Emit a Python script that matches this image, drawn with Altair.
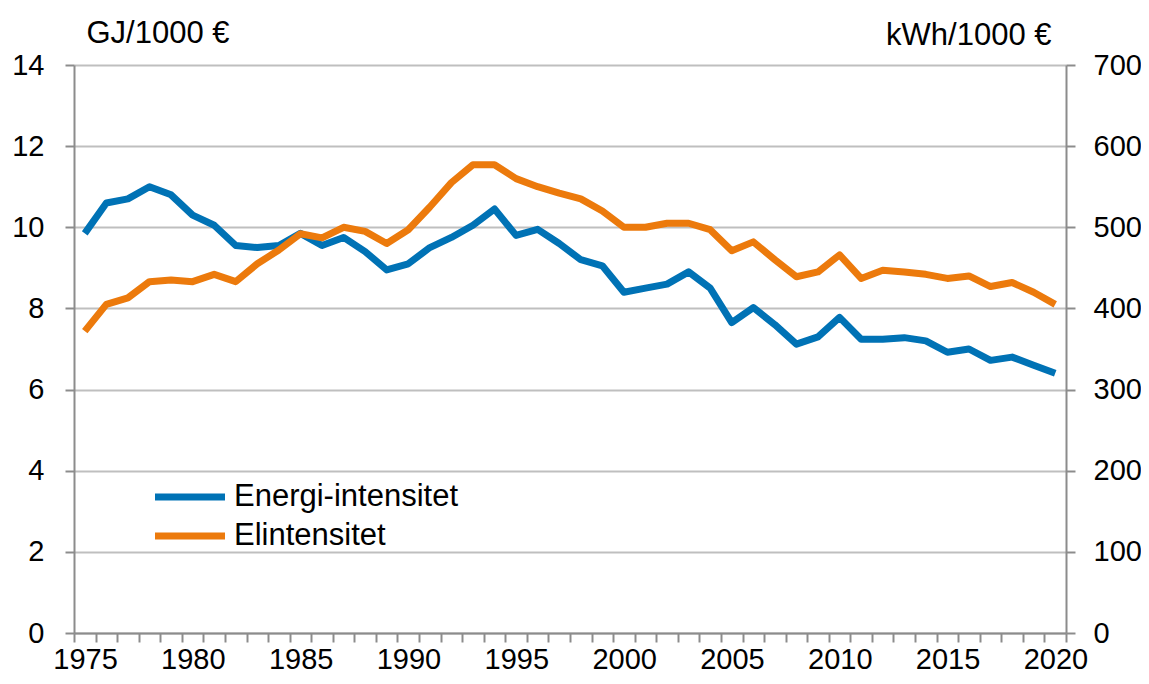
import altair as alt
import pandas as pd

years = list(range(1975, 2021))
energi = [9.85, 10.6, 10.7, 11.0, 10.8, 10.3, 10.05, 9.55, 9.5, 9.55,
          9.85, 9.55, 9.75, 9.4, 8.95, 9.1, 9.5, 9.75, 10.05, 10.45,
          9.8, 9.95, 9.6, 9.2, 9.05, 8.4, 8.5, 8.6, 8.9, 8.5,
          7.65, 8.02, 7.6, 7.12, 7.3, 7.78, 7.24, 7.24, 7.28, 7.2,
          6.92, 7.0, 6.72, 6.8, 6.6, 6.4]
el = [372, 405, 413, 433, 435, 433, 442, 433, 455, 472,
      492, 487, 500, 495, 480, 497, 525, 555, 577, 577,
      560, 550, 542, 535, 520, 500, 500, 505, 505, 497,
      471, 482, 460, 439, 445, 466, 437, 447, 445, 442,
      437, 440, 427, 432, 420, 405]
series = ["Energi-intensitet", "Elintensitet"]
colors = ["#0072B5", "#EC7A0C"]

df = pd.DataFrame({"year": years, "energi": energi, "el": el})

FONT = "Liberation Sans"
FS = 29
TFS = 31
AXIS_GRAY = "#8C8C8C"
GRID_GRAY = "#BFBFBF"

x = alt.X(
    "year:Q",
    scale=alt.Scale(domain=[1974.5, 2020.5], nice=False, zero=False),
    axis=alt.Axis(
        values=[1974.5 + i for i in range(47)],
        labelExpr="(datum.value + 0.5) % 5 == 0 ? '' + (datum.value + 0.5) : ''",
        labelOffset=11,
        labelOverlap=False,
        labelFlush=False,
        tickSize=9,
        labelPadding=3,
        grid=False,
        title=None,
    ),
)

color = alt.Color(
    "series:N",
    scale=alt.Scale(domain=series, range=colors),
    legend=alt.Legend(
        orient="none",
        legendX=95,
        legendY=411,
        title=None,
        symbolType="M-2,0H2",
        symbolSize=1225,
        symbolStrokeWidth=7,
        labelFont=FONT,
        labelFontSize=TFS,
        labelColor="#000000",
        labelOffset=23,
        labelLimit=0,
        rowPadding=3,
    ),
)

blue = alt.Chart(df).transform_calculate(series=f"'{series[0]}'").mark_line(
    strokeWidth=7, strokeJoin="round"
).encode(
    x=x,
    y=alt.Y(
        "energi:Q",
        scale=alt.Scale(domain=[0, 14], nice=False),
        axis=alt.Axis(
            orient="left",
            values=list(range(0, 15, 2)),
            grid=True,
            tickSize=9,
            labelPadding=21,
            title="GJ/1000 €",
            titleAngle=0,
            titleAlign="left",
            titleBaseline="alphabetic",
            titleX=12,
            titleY=-23,
            titleFont=FONT,
            titleFontSize=TFS,
            titleFontWeight="normal",
            titleColor="#000000",
        ),
    ),
    color=color,
)

orange = alt.Chart(df).transform_calculate(series=f"'{series[1]}'").mark_line(
    strokeWidth=7, strokeJoin="round"
).encode(
    x=x,
    y=alt.Y(
        "el:Q",
        scale=alt.Scale(domain=[0, 700], nice=False),
        axis=alt.Axis(
            orient="right",
            values=list(range(0, 701, 100)),
            grid=False,
            tickSize=9,
            labelPadding=18,
            title="kWh/1000 €",
            titleAngle=0,
            titleAlign="right",
            titleBaseline="alphabetic",
            titleX=-15,
            titleY=-21,
            titleFont=FONT,
            titleFontSize=TFS,
            titleFontWeight="normal",
            titleColor="#000000",
        ),
    ),
    color=color,
)

chart = (
    alt.layer(blue, orange)
    .resolve_scale(y="independent")
    .properties(
        width=992,
        height=568,
        autosize=alt.AutoSizeParams(type="none"),
        padding={"left": 66, "top": 57, "right": 75, "bottom": 43},
    )
    .configure_view(stroke=None)
    .configure_axis(
        labelFont=FONT,
        labelFontSize=FS,
        labelColor="#000000",
        domainColor=AXIS_GRAY,
        domainWidth=2,
        tickColor=AXIS_GRAY,
        tickWidth=2,
        gridColor=GRID_GRAY,
        gridWidth=2,
    )
)

chart.save("out.html", embed_options={"renderer": "svg", "actions": False})
